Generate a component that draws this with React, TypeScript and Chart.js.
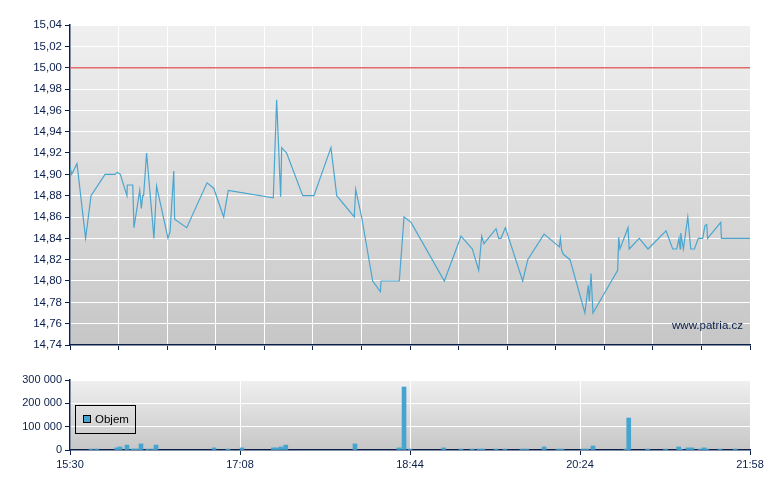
import { useEffect, useRef } from "react";
import { Chart, registerables } from "chart.js";

Chart.register(...registerables);

const navy = "#0b1f4b";
const fontFamily = "'Liberation Sans', Arial, sans-serif";

// minutes after 15:30
const priceTimes = [
  0, 1.0, 4.0, 8.9, 12.0, 20.0, 25.7, 27.0, 28.7, 32.5, 32.7, 35.8, 36.5, 39.8, 40.7, 41.5, 42.0, 43.7,
  47.9, 49.4, 55.9, 57.1, 59.2, 59.7, 66.6, 78.2, 82.0, 87.7, 90.3, 116.0, 117.9, 120.2, 120.8, 123.6,
  132.8, 139.2, 148.9, 152.2, 162.2, 163.0, 166.4, 172.7, 177.1, 177.5, 187.9, 190.6, 194.6, 213.6,
  223.1, 229.6, 233.2, 234.9, 236.2, 243.1, 244.6, 245.9, 248.4, 258.3, 261.2, 270.5, 279.2, 279.8,
  280.5, 281.5, 285.3, 293.8, 295.7, 296.3, 297.3, 298.4, 312.5, 313.1, 313.8, 318.4, 319.1, 324.8,
  329.8, 340.1, 343.9, 346.2, 347.5, 348.1, 348.5, 350.0, 352.5, 354.2, 356.3, 358.5, 361.0, 362.3,
  363.3, 363.8, 371.3, 371.7, 388,
];
const prices = [
  14.907, 14.9, 14.91, 14.84, 14.88, 14.9, 14.9, 14.902, 14.9, 14.88, 14.89, 14.89, 14.85, 14.885, 14.868,
  14.88, 14.88, 14.92, 14.84, 14.889, 14.84, 14.846, 14.903, 14.858, 14.85, 14.892, 14.887, 14.86, 14.885,
  14.878, 14.97, 14.879, 14.925, 14.92, 14.88, 14.88, 14.925, 14.88, 14.86, 14.886, 14.86, 14.8, 14.79,
  14.8, 14.8, 14.86, 14.855, 14.8, 14.842, 14.83, 14.81, 14.842, 14.835, 14.849, 14.84, 14.84, 14.85,
  14.8, 14.82, 14.844, 14.832, 14.84, 14.829, 14.825, 14.82, 14.77, 14.796, 14.781, 14.807, 14.77, 14.81,
  14.841, 14.83, 14.85, 14.83, 14.84, 14.83, 14.847, 14.83, 14.83, 14.84, 14.83, 14.845, 14.83, 14.86,
  14.83, 14.83, 14.84, 14.84, 14.852, 14.853, 14.84, 14.855, 14.84, 14.84,
];
const limitPrice = 15.0;

const volTimes = [
  12.0, 15.2, 26.6, 28.5, 32.5, 35.8, 36.9, 38.8, 40.5, 44.5, 47.4, 49.1, 82.2, 90.2, 98.1, 116.0, 117.9,
  120.4, 123.1, 162.6, 187.7, 190.6, 194.0, 213.2, 223.1, 229.4, 233.4, 235.6, 243.1, 248.2, 257.9, 260.6,
  270.5, 278.4, 280.7, 292.7, 295.0, 298.4, 317.2, 318.8, 329.6, 339.8, 347.3, 348.5, 352.6, 354.9, 359.5,
  361.8, 363.3, 370.9, 379.6,
];
const volumes = [
  4000, 4000, 9000, 13000, 21000, 4000, 4000, 4000, 26000, 4000, 4000, 21000, 9000, 4000, 9000, 9000, 9000,
  13000, 21000, 26000, 9000, 270000, 4000, 9000, 4000, 4000, 4000, 4000, 4000, 4000, 4000, 4000,
  13000, 4000, 4000, 4000, 4000, 17000, 4000, 137000, 4000, 4000, 13000, 4000, 9000, 9000, 4000,
  9000, 4000, 4000, 4000,
];

const timeLabels = ["15:30", "17:08", "18:44", "20:24", "21:58"];
const sessionLength = 388;
const topGridDivs = 14;

const bgPlugin = {
  id: "bg",
  beforeDraw(chart: any) {
    const { ctx, chartArea: a } = chart;
    const g = ctx.createLinearGradient(0, a.top, 0, a.bottom);
    g.addColorStop(0, "#f0f0f0");
    g.addColorStop(1, "#c6c6c6");
    ctx.save();
    ctx.fillStyle = g;
    ctx.fillRect(a.left, a.top, a.right - a.left, a.bottom - a.top);
    ctx.restore();
  },
};

const watermark = {
  id: "watermark",
  afterDraw(chart: any) {
    const { ctx, chartArea: a } = chart;
    ctx.save();
    ctx.font = `11.5px ${fontFamily}`;
    ctx.fillStyle = navy;
    ctx.textAlign = "right";
    ctx.textBaseline = "alphabetic";
    ctx.fillText("www.patria.cz", a.right - 7, a.bottom - 16);
    ctx.restore();
  },
};

const volLegend = {
  id: "volLegend",
  afterDraw(chart: any) {
    const { ctx, chartArea: a } = chart;
    const x = a.left + 5;
    const y = a.top + 25;
    ctx.save();
    ctx.strokeStyle = "#000";
    ctx.lineWidth = 1;
    ctx.strokeRect(x + 0.5, y + 0.5, 60, 28);
    ctx.fillStyle = "#45a5d0";
    ctx.fillRect(x + 8, y + 10, 8, 8);
    ctx.strokeRect(x + 8.5, y + 10.5, 7, 7);
    ctx.font = `11.5px ${fontFamily}`;
    ctx.fillStyle = "#000";
    ctx.textBaseline = "middle";
    ctx.fillText("Objem", x + 20, y + 15);
    ctx.restore();
  },
};

const topFont = { family: fontFamily, size: 11.5 };
const bottomFont = { family: fontFamily, size: 11 };

function PriceChart() {
  const ref = useRef<HTMLCanvasElement | null>(null);

  useEffect(() => {
    if (!ref.current) return;
    const chart = new Chart(ref.current, {
      type: "line",
      data: {
        datasets: [
          {
            data: [
              { x: 0, y: limitPrice },
              { x: sessionLength, y: limitPrice },
            ],
            borderColor: "#e46a6a",
            borderWidth: 1.5,
            pointRadius: 0,
          },
          {
            data: priceTimes.map((t, i) => ({ x: t, y: prices[i] })),
            borderColor: "#4ba6cf",
            borderWidth: 1.2,
            pointRadius: 0,
            tension: 0,
          },
        ],
      },
      options: {
        responsive: false,
        animation: false,
        layout: { padding: { left: 0, top: 25, right: 30, bottom: 0 } },
        plugins: { legend: { display: false }, tooltip: { enabled: false } },
        scales: {
          x: {
            type: "linear",
            min: 0,
            max: sessionLength,
            afterBuildTicks: (s: any) => {
              s.ticks = Array.from({ length: topGridDivs + 1 }, (_, i) => ({
                value: (i * sessionLength) / topGridDivs,
              }));
            },
            afterFit: (s: any) => {
              s.height = 15;
            },
            ticks: { display: false },
            grid: { color: "#ffffff", tickColor: navy, tickLength: 5, lineWidth: 1 },
            border: { color: navy, width: 1.5 },
          },
          y: {
            min: 14.74,
            max: 15.04,
            afterFit: (s: any) => {
              s.width = 70;
            },
            ticks: {
              stepSize: 0.02,
              color: navy,
              font: topFont,
              padding: 3,
              callback: (v: any) => Number(v).toFixed(2).replace(".", ","),
            },
            grid: { color: "#ffffff", tickColor: navy, tickLength: 5, lineWidth: 1 },
            border: { color: navy, width: 1.5 },
          },
        },
      },
      plugins: [bgPlugin, watermark],
    });
    return () => chart.destroy();
  }, []);

  return <canvas ref={ref} width={780} height={360} style={{ display: "block" }} />;
}

function VolumeChart() {
  const ref = useRef<HTMLCanvasElement | null>(null);

  useEffect(() => {
    if (!ref.current) return;
    const chart = new Chart(ref.current, {
      type: "bar",
      data: {
        datasets: [
          {
            label: "Objem",
            data: volTimes.map((t, i) => ({ x: t, y: volumes[i] })),
            backgroundColor: "#45a5d0",
            barThickness: 4,
          },
        ],
      },
      options: {
        responsive: false,
        animation: false,
        layout: { padding: { left: 0, top: 20, right: 30, bottom: 0 } },
        plugins: { legend: { display: false }, tooltip: { enabled: false } },
        scales: {
          x: {
            type: "linear",
            min: 0,
            max: sessionLength,
            offset: false,
            afterBuildTicks: (s: any) => {
              s.ticks = timeLabels.map((_, i) => ({
                value: (i * sessionLength) / (timeLabels.length - 1),
              }));
            },
            afterFit: (s: any) => {
              s.height = 40;
            },
            ticks: {
              color: navy,
              font: bottomFont,
              maxRotation: 0,
              autoSkip: false,
              padding: 3,
              callback: (_v: any, i: number) => timeLabels[i],
            },
            grid: { offset: false, color: "#ffffff", tickColor: navy, tickLength: 5, lineWidth: 1 },
            border: { color: navy, width: 1.5 },
          },
          y: {
            min: 0,
            max: 300000,
            afterFit: (s: any) => {
              s.width = 70;
            },
            ticks: {
              stepSize: 100000,
              color: navy,
              font: bottomFont,
              padding: 3,
              callback: (v: any) => String(v).replace(/\B(?=(\d{3})+(?!\d))/g, " "),
            },
            grid: { color: "#ffffff", tickColor: navy, tickLength: 5, lineWidth: 1 },
            border: { color: navy, width: 1.5 },
          },
        },
      },
      plugins: [bgPlugin, volLegend],
    });
    return () => chart.destroy();
  }, []);

  return <canvas ref={ref} width={780} height={130} style={{ display: "block" }} />;
}

export default function App() {
  return (
    <div
      style={{
        position: "fixed",
        left: 0,
        top: 0,
        width: 780,
        height: 490,
        background: "#ffffff",
      }}
    >
      <PriceChart />
      <VolumeChart />
    </div>
  );
}
